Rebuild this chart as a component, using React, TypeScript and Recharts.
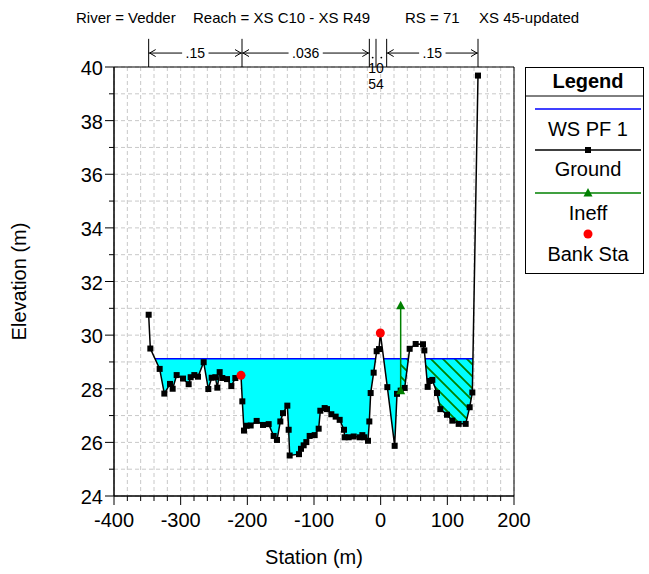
import React from "react";
import {
  ComposedChart,
  Line,
  Area,
  Scatter,
  XAxis,
  YAxis,
  CartesianGrid,
  ReferenceLine,
  ReferenceArea,
} from "recharts";

// ground profile (station m, elevation m)
const stations = [
  -348, -345.5, -331.5, -324.5, -316, -312, -306, -296.5, -288, -285, -279.5,
  -274, -265.5, -258.5, -253.5, -248, -245, -241.5, -237.5, -230.5, -224, -218,
  -209.5, -207.5, -205, -201, -195, -186, -176.5, -168, -160.5, -155.5, -150.5,
  -146.5, -140, -138, -136.5, -122.5, -119.5, -115.5, -111.5, -106.5, -99, -93,
  -90.5, -84, -80.5, -74, -67.5, -61.5, -55, -54, -48, -40.5, -31.5, -27.5,
  -24.5, -19, -17, -15, -10.5, -6, -2.5, -0.5, 10, 21, 24.5, 30, 36, 43.5, 52.5,
  63.5, 65.5, 70.5, 73.5, 77.5, 84.5, 89.5, 99.5, 107.5, 117, 127.5, 133.5,
  137.5, 146,
];
const elevations = [
  30.76, 29.5, 28.74, 27.82, 28.18, 28.0, 28.51, 28.38, 28.17, 28.43, 28.51,
  28.45, 28.99, 27.99, 28.41, 28.43, 28.04, 28.62, 28.4, 28.36, 28.1, 28.4,
  28.5, 27.53, 26.44, 26.62, 26.63, 26.8, 26.65, 26.68, 26.24, 26.09, 26.78,
  27.09, 27.37, 26.47, 25.51, 25.56, 25.76, 25.89, 26.01, 26.24, 26.27, 26.51,
  27.18, 27.28, 27.24, 27.05, 26.96, 26.84, 26.47, 26.19, 26.19, 26.22, 26.19,
  26.27, 26.19, 26.06, 26.78, 27.84, 28.6, 29.4, 29.48, 30.08, 28.06, 25.87,
  27.81, 27.93, 28.03, 29.49, 29.67, 29.66, 29.43, 28.07, 28.29, 28.33, 27.84,
  27.24, 27.03, 26.81, 26.69, 26.69, 27.31, 27.86, 39.68,
];

const wsElevation = 29.12;
const bankStations = [-209.5, -0.5];
const ineffStation = 30;
const ineffElevation = 31.1;

// manning's n regions
const nStations = [-348, -208, -17, -7, 9, 146];
const nValues = [".15", ".036", ".10", ".054", ".15"];

const xTicks = [
  -400, -380, -360, -340, -320, -300, -280, -260, -240, -220, -200, -180, -160,
  -140, -120, -100, -80, -60, -40, -20, 0, 20, 40, 60, 80, 100, 120, 140, 160,
  180, 200,
];
const yTicks = [24, 25, 26, 27, 28, 29, 30, 31, 32, 33, 34, 35, 36, 37, 38, 39, 40];

const headerParts = ["River = Vedder", "Reach = XS C10 - XS R49", "RS = 71", "XS 45-updated"];
const headerX = [76, 193, 405, 479];

const legendItems = ["WS PF 1", "Ground", "Ineff", "Bank Sta"];

const FONT = "'Liberation Sans', Arial, Helvetica, sans-serif";
const GREEN = "#008000";

type Row = {
  x: number;
  ground?: number;
  level: number;
  water?: [number, number] | null;
  hatch?: [number, number] | null;
  ws?: number | null;
};

// ground points plus the points where the water surface cuts the ground
const rows: Row[] = [];
stations.forEach((x, i) => {
  const g = elevations[i];
  rows.push({ x, ground: g, level: g });
  if (i < stations.length - 1) {
    const g2 = elevations[i + 1];
    if ((g - wsElevation) * (g2 - wsElevation) < 0) {
      const xc = x + ((wsElevation - g) / (g2 - g)) * (stations[i + 1] - x);
      rows.push({ x: xc, level: wsElevation });
    }
  }
});
rows.forEach((r) => {
  const wet = r.level <= wsElevation + 1e-9;
  r.water = wet ? [r.level, wsElevation] : null;
  r.ws = wet ? wsElevation : null;
  r.hatch = wet && r.x >= ineffStation ? [r.level, wsElevation] : null;
});

const banks = bankStations.map((s) => ({ x: s, y: elevations[stations.indexOf(s)] }));
const ineff = [
  { x: ineffStation, y: elevations[stations.indexOf(ineffStation)] },
  { x: ineffStation, y: ineffElevation },
];

const XTick = (props: any) => {
  const { x, y, payload } = props;
  const major = payload.value % 100 === 0;
  return (
    <g>
      <line x1={x} x2={x} y1={y} y2={y + (major ? 9 : 5)} stroke="#000" />
      {major && (
        <text x={x} y={y + 31} textAnchor="middle" fontSize={20} fontFamily={FONT} fill="#000">
          {payload.value}
        </text>
      )}
    </g>
  );
};

const YTick = (props: any) => {
  const { x, y, payload } = props;
  const major = payload.value % 2 === 0;
  return (
    <g>
      <line x1={x - (major ? 9 : 5)} x2={x} y1={y} y2={y} stroke="#000" />
      {major && (
        <text x={x - 11} y={y + 8} textAnchor="end" fontSize={20} fontFamily={FONT} fill="#000">
          {payload.value}
        </text>
      )}
    </g>
  );
};

const GroundDot = (props: any) => {
  const { cx, cy, index, value } = props;
  if (value == null || cy == null) return <g key={`g${index}`} />;
  return <rect key={`g${index}`} x={cx - 3} y={cy - 3} width={6} height={6} fill="#000" />;
};

const Triangle = (props: any) => {
  const { cx, cy } = props;
  return (
    <polygon
      points={`${cx},${cy - 5} ${cx - 4.5},${cy + 3.5} ${cx + 4.5},${cy + 3.5}`}
      fill={GREEN}
    />
  );
};

const BankDot = (props: any) => <circle cx={props.cx} cy={props.cy} r={4.5} fill="#ff0000" />;

let narrowCount = 0;
const nArrow = (label: string) => (props: any) => {
  const { x1, x2, y1 } = props;
  const w = x2 - x1;
  if (w < 30) {
    // too narrow for an arrow: decimal point in the gap, digits stacked below
    const k = narrowCount++ % 2;
    const digits = label.replace(/^\.0?/, "");
    const dx = k === 0 ? x2 : x1;
    return (
      <g fontFamily={FONT} fill="#000">
        <circle cx={(x1 + x2) / 2} cy={y1 + 4.5} r={0.9} fill="#000" />
        <text x={dx} y={k === 0 ? 72.5 : 88.5} fontSize={14} textAnchor="middle">{digits}</text>
      </g>
    );
  }
  const tw = label.length * 7.8 - 3;
  const mid = (x1 + x2) / 2;
  const a = mid - tw / 2 - 3;
  const b = mid + tw / 2 + 3;
  return (
    <g>
      <line x1={x1} x2={a} y1={y1} y2={y1} stroke="#000" />
      <line x1={b} x2={x2} y1={y1} y2={y1} stroke="#000" />
      <polyline points={`${x1 + 7},${y1 - 3.5} ${x1 + 1},${y1} ${x1 + 7},${y1 + 3.5}`} fill="none" stroke="#000" />
      <polyline points={`${x2 - 7},${y1 - 3.5} ${x2 - 1},${y1} ${x2 - 7},${y1 + 3.5}`} fill="none" stroke="#000" />
      <text x={mid} y={y1 + 5} textAnchor="middle" fontSize={14} fontFamily={FONT} fill="#000">
        {label}
      </text>
    </g>
  );
};

export default function App() {
  narrowCount = 0;
  return (
    <div style={{ position: "absolute", left: 0, top: 0, width: 649, height: 574, background: "#fff" }}>
      <ComposedChart
        width={649}
        height={574}
        data={rows}
        margin={{ top: 67, right: 135, bottom: 48, left: 54 }}
      >
        <defs>
          <pattern id="hatch" patternUnits="userSpaceOnUse" width={12} height={12}>
            <path d="M0,0 L12,12 M-3,9 L3,15 M9,-3 L15,3" stroke={GREEN} strokeWidth={1.8} />
          </pattern>
        </defs>
        <CartesianGrid stroke="#c8c8c8" strokeDasharray="4 3" />
        <XAxis
          dataKey="x"
          type="number"
          domain={[-400, 200]}
          ticks={xTicks}
          interval={0}
          tickSize={0}
          tickMargin={0}
          tickLine={false}
          tick={XTick}
          height={30}
          axisLine={{ stroke: "#000" }}
          allowDataOverflow
        />
        <YAxis
          type="number"
          domain={[24, 40]}
          ticks={yTicks}
          interval={0}
          tickSize={0}
          tickMargin={0}
          tickLine={false}
          tick={YTick}
          width={60}
          axisLine={{ stroke: "#000" }}
          allowDataOverflow
        />
        <Area
          dataKey="water"
          fill="#00ffff"
          fillOpacity={1}
          stroke="none"
          isAnimationActive={false}
          activeDot={false}
        />
        <Area
          dataKey="hatch"
          fill="url(#hatch)"
          fillOpacity={1}
          stroke="none"
          isAnimationActive={false}
          activeDot={false}
        />
        <Line
          dataKey="ws"
          name="WS PF 1"
          stroke="#0000ff"
          strokeWidth={1.5}
          dot={false}
          activeDot={false}
          isAnimationActive={false}
        />
        <Line
          dataKey="ground"
          name="Ground"
          stroke="#000"
          strokeWidth={1.5}
          connectNulls
          dot={GroundDot}
          activeDot={false}
          isAnimationActive={false}
        />
        <Scatter
          name="Ineff"
          data={ineff}
          dataKey="y"
          line={{ stroke: GREEN, strokeWidth: 1.5 }}
          shape={Triangle}
          isAnimationActive={false}
        />
        <Scatter
          name="Bank Sta"
          data={banks}
          dataKey="y"
          shape={BankDot}
          isAnimationActive={false}
        />
        <ReferenceArea x1={-400} x2={200} y1={24} y2={40} fill="none" stroke="#000" ifOverflow="visible" />
        {nStations.map((s) => (
          <ReferenceLine
            key={`b${s}`}
            segment={[{ x: s, y: 40 }, { x: s, y: 41.05 }]}
            stroke="#000"
            ifOverflow="visible"
          />
        ))}
        {nValues.map((n, i) => (
          <ReferenceLine
            key={`n${i}`}
            segment={[{ x: nStations[i], y: 40.52 }, { x: nStations[i + 1], y: 40.52 }]}
            ifOverflow="visible"
            shape={nArrow(n)}
          />
        ))}
      </ComposedChart>

      <svg
        width={649}
        height={574}
        style={{ position: "absolute", left: 0, top: 0, pointerEvents: "none" }}
        fontFamily={FONT}
      >
        {headerParts.map((t, i) => (
          <text key={t} x={headerX[i]} y={23} fontSize={15} fill="#000">
            {t}
          </text>
        ))}
        <text x={314} y={564} textAnchor="middle" fontSize={20} fill="#000">
          Station (m)
        </text>
        <text transform="translate(26,281.5) rotate(-90)" textAnchor="middle" fontSize={20} fill="#000">
          Elevation (m)
        </text>

        <rect x={525.5} y={67.5} width={118} height={206} fill="#fff" stroke="#000" />
        <line x1={525.5} x2={643.5} y1={96} y2={96} stroke="#000" />
        <text x={588} y={87.5} textAnchor="middle" fontSize={20} fontWeight="bold" fill="#000">
          Legend
        </text>
        <line x1={535} x2={641} y1={109} y2={109} stroke="#0000ff" strokeWidth={1.3} />
        <text x={588} y={136} textAnchor="middle" fontSize={20} fill="#000">{legendItems[0]}</text>
        <line x1={535} x2={641} y1={150} y2={150} stroke="#000" strokeWidth={1.3} />
        <rect x={585} y={147} width={6} height={6} fill="#000" />
        <text x={588} y={176} textAnchor="middle" fontSize={20} fill="#000">{legendItems[1]}</text>
        <line x1={535} x2={641} y1={193} y2={193} stroke={GREEN} strokeWidth={1.3} />
        <polygon points="588,188 583.5,196.5 592.5,196.5" fill={GREEN} />
        <text x={588} y={220} textAnchor="middle" fontSize={20} fill="#000">{legendItems[2]}</text>
        <circle cx={588} cy={234} r={4.5} fill="#ff0000" />
        <text x={588} y={261} textAnchor="middle" fontSize={20} fill="#000">{legendItems[3]}</text>
      </svg>
    </div>
  );
}
